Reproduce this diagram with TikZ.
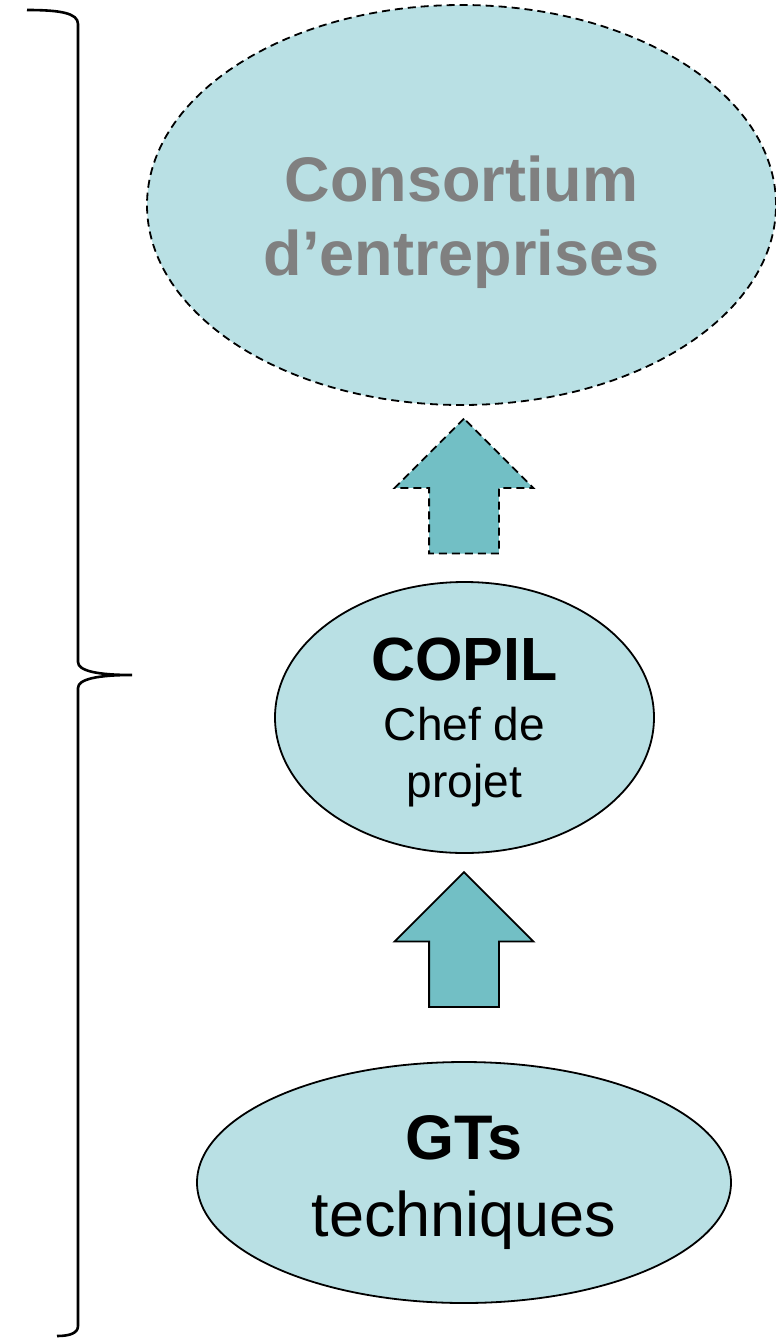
\documentclass[tikz,border=0pt]{standalone}
\usepackage{fontspec}
\setmainfont{Liberation Sans}
\usetikzlibrary{shapes.geometric, shapes.arrows}
\definecolor{bulle}{HTML}{B9E0E4}
\definecolor{fleche}{HTML}{72BFC5}
\definecolor{grisclair}{HTML}{808080}
\tikzset{bulle/.style={ellipse, draw, line width=1.8pt, fill=bulle, inner sep=0pt},
  texte/.style={align=center, inner sep=0pt},
  montee/.style={single arrow, draw, line width=1.8pt, fill=fleche, inner xsep=0pt, inner ysep=34pt,
    rotate=90, minimum height=135pt, single arrow head extend=34.5pt},
  pointilles/.style={dash pattern=on 8pt off 5pt}}

\begin{document}
\begin{tikzpicture}[x=1pt, y=-1pt]
\useasboundingbox (0,0) rectangle (776,1338);
\node[bulle, pointilles, minimum width=629pt, minimum height=400pt] (consortium) at (461.5,205) {};
\node[texte, text=grisclair, font=\fontsize{63}{74}\selectfont\bfseries] (consortium-texte)
  at ([yshift=-17pt]consortium.center) {Consortium\\d’entreprises};
\node[bulle, minimum width=379pt, minimum height=271pt] (copil) at (464.5,717.5) {};
\node[texte, font=\fontsize{46}{57}\selectfont] (copil-texte) at ([yshift=-5pt]copil.center)
  {{\fontsize{61}{60}\selectfont\bfseries COPIL}\\[3pt]Chef de\\projet};
\node[bulle, minimum width=534pt, minimum height=241pt] (gts) at (464,1182.5) {};
\node[texte, font=\fontsize{63}{77}\selectfont] (gts-texte) at (gts.center) {\textbf{GTs}\\techniques};
% fleches entre les niveaux
\node[montee, pointilles] (vers-consortium) at (464,503.5) {};
\node[montee] (vers-copil) at (464,957) {};
% accolade
\draw[line width=2.6pt] (27,10) .. controls (60,10) and (78,13) .. (78,24) -- (78,662)
  .. controls (78,671) and (98,675) .. (132,675) .. controls (98,675) and (78,679) .. (78,688)
  -- (78,1326) .. controls (78,1333) and (70,1336) .. (57,1336);
\end{tikzpicture}
\end{document}
